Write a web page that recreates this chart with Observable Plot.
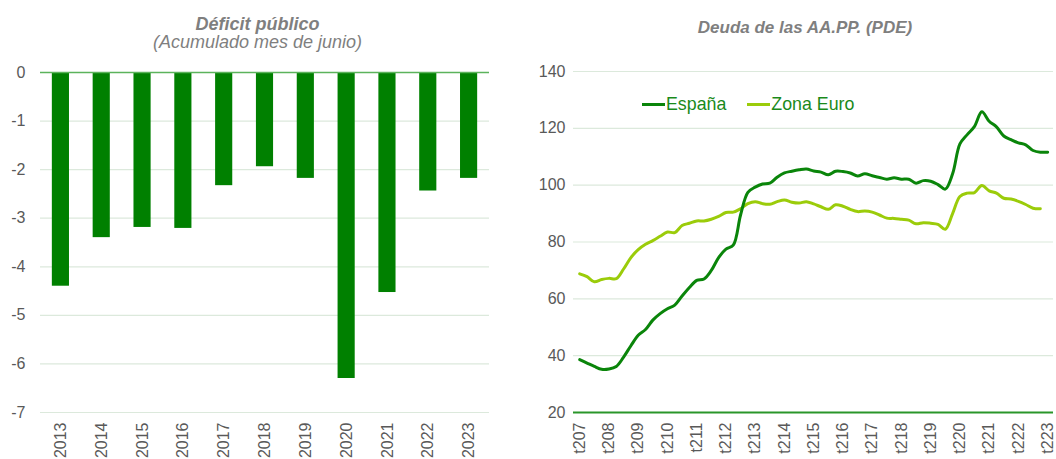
<!DOCTYPE html>
<html>
<head>
<meta charset="utf-8">
<script src="https://cdn.jsdelivr.net/npm/d3@7"></script>
<script src="https://cdn.jsdelivr.net/npm/@observablehq/plot@0.6"></script>
<style>
  html, body { margin: 0; padding: 0; background: #ffffff; }
  body { font-family: "Liberation Sans", Arial, sans-serif; }
  #wrap { position: relative; width: 1056px; height: 459px; overflow: hidden; }
  .title { position: absolute; font-weight: bold; font-style: italic; color: #7f7f7f;
           text-align: center; white-space: nowrap; line-height: 1; }
  .subtitle { position: absolute; font-style: italic; color: #7f7f7f;
           text-align: center; white-space: nowrap; line-height: 1; }
  .chart { position: absolute; }
  #legend { position: absolute; left: 642px; top: 96px; display: flex; align-items: center;
            font-size: 17.8px; color: #1a8a1a; line-height: 1; white-space: nowrap; }
  #legend .sw { display: inline-block; width: 23px; height: 3px; margin-right: 1px; }
  #legend .item { display: flex; align-items: center; margin-right: 21px; }
</style>
</head>
<body>
<div id="wrap">
  <div class="title" style="left:0px;width:515px;top:15px;font-size:18px;">Déficit público</div>
  <div class="subtitle" style="left:0px;width:515px;top:33px;font-size:18px;">(Acumulado mes de junio)</div>
  <div class="title" style="left:560px;width:490px;top:19px;font-size:17px;">Deuda de las AA.PP. (PDE)</div>
  <div id="left" class="chart" style="left:0px;top:60px;"></div>
  <div id="right" class="chart" style="left:520px;top:60px;"></div>
  <div id="legend"></div>
</div>
<script>
// ---------- Data: Déficit público ----------
const years = ["2013","2014","2015","2016","2017","2018","2019","2020","2021","2022","2023"];
const deficit = [-4.40, -3.40, -3.19, -3.21, -2.33, -1.94, -2.18, -6.30, -4.53, -2.44, -2.18];
const deficitTicks = [0, -1, -2, -3, -4, -5, -6, -7];

// ---------- Data: Deuda de las AA.PP. (quarterly, first quarter at "t207") ----------
const xTickLabels = ["t207","t208","t209","t210","t211","t212","t213","t214","t215",
                     "t216","t217","t218","t219","t220","t221","t222","t223"];
const espana = [
  38.6, 37.4, 36.2, 35.2, 35.3, 36.2, 39.5, 43.5, 47.2, 49.2,
  52.5, 54.8, 56.5, 57.8, 61.0, 64.0, 66.5, 67.0, 70.0, 74.5,
  77.5, 78.9, 89.5, 97.5, 99.3, 100.4, 100.7, 102.8, 104.3, 104.9,
  105.4, 105.7, 105.0, 104.6, 103.7, 104.9, 104.8, 104.3, 103.2, 104.0,
  103.3, 102.7, 102.1, 102.6, 102.1, 102.1, 100.7, 101.6, 101.4, 100.2,
  98.6, 104.0, 114.5, 117.8, 120.7, 125.8, 122.5, 120.5, 117.3, 116.0,
  114.9, 114.2, 112.2, 111.6, 111.6
];
const zonaEuro = [
  68.8, 67.8, 66.0, 66.8, 67.2, 67.1, 70.5, 74.5, 77.3, 79.2,
  80.5, 82.0, 83.5, 83.3, 85.8, 86.6, 87.4, 87.4, 88.0, 89.0,
  90.4, 90.5, 91.7, 93.5, 94.2, 93.5, 93.3, 94.2, 94.8, 94.0,
  93.7, 94.2, 93.4, 92.4, 91.5, 93.1, 92.6, 91.5, 90.7, 90.9,
  90.5, 89.5, 88.4, 88.3, 88.0, 87.7, 86.4, 86.8, 86.6, 86.2,
  84.5, 90.0, 96.0, 97.2, 97.4, 99.9, 98.0, 97.2, 95.4, 95.1,
  94.3, 93.2, 91.9, 91.7
];
const debtTicks = [20, 40, 60, 80, 100, 120, 140];
const seriesNames = ["España", "Zona Euro"];
const seriesColors = ["#0a850a", "#9bcc0a"];

const axisStyle = {
  fontFamily: "'Liberation Sans', Arial, sans-serif",
  fontSize: "16px",
  color: "#595959",
  background: "transparent",
  overflow: "visible"
};
const gridColor = "#dce9dc";

// ---------- Left chart ----------
const deficitRows = years.map((y, i) => ({year: y, value: deficit[i]}));
const left = Plot.plot({
  width: 520, height: 399,
  marginTop: 12, marginBottom: 47, marginLeft: 40, marginRight: 31,
  style: axisStyle,
  x: {domain: years, paddingInner: 0.58, paddingOuter: 0.29, round: false, label: null},
  y: {domain: [-7, 0], label: null},
  marks: [
    Plot.gridY(deficitTicks.filter(d => d !== 0), {stroke: gridColor, strokeOpacity: 1, strokeWidth: 1.2}),
    Plot.barY(deficitRows, {x: "year", y: "value", fill: "#008000"}),
    Plot.ruleY([0], {stroke: "#5cb35c", strokeWidth: 1.5}),
    Plot.axisY({ticks: deficitTicks, tickSize: 0, tickPadding: 15, tickFormat: d => String(d), label: null}),
    Plot.axisX({tickSize: 0, tickRotate: -90, tickPadding: 10, label: null})
  ]
});
document.getElementById("left").appendChild(left);

// ---------- Right chart ----------
const espRows = espana.map((v, i) => ({q: i, value: v}));
const zeRows = zonaEuro.map((v, i) => ({q: i, value: v}));
const right = Plot.plot({
  width: 536, height: 399,
  marginTop: 11, marginBottom: 47, marginLeft: 53, marginRight: 3,
  style: axisStyle,
  x: {domain: [-0.85, 64.8], label: null},
  y: {domain: [20, 140], label: null},
  marks: [
    Plot.gridY(debtTicks.filter(d => d !== 20), {stroke: gridColor, strokeOpacity: 1, strokeWidth: 1.2}),
    Plot.ruleY([20], {stroke: "#2a962a", strokeWidth: 2}),
    Plot.lineY(zeRows, {x: "q", y: "value", stroke: seriesColors[1], strokeWidth: 3, curve: "catmull-rom"}),
    Plot.lineY(espRows, {x: "q", y: "value", stroke: seriesColors[0], strokeWidth: 3, curve: "catmull-rom"}),
    Plot.axisY({ticks: debtTicks, tickSize: 0, tickPadding: 8, label: null}),
    Plot.axisX({ticks: xTickLabels.map((_, i) => i * 4), tickFormat: d => xTickLabels[Math.round(d / 4)],
                tickRotate: -90, tickSize: 0, tickPadding: 10, label: null})
  ]
});
document.getElementById("right").appendChild(right);

// ---------- Legend ----------
const legend = document.getElementById("legend");
seriesNames.forEach((name, i) => {
  const item = document.createElement("span");
  item.className = "item";
  const sw = document.createElement("span");
  sw.className = "sw";
  sw.style.background = seriesColors[i];
  const tx = document.createElement("span");
  tx.textContent = name;
  item.appendChild(sw);
  item.appendChild(tx);
  legend.appendChild(item);
});
</script>
</body>
</html>
